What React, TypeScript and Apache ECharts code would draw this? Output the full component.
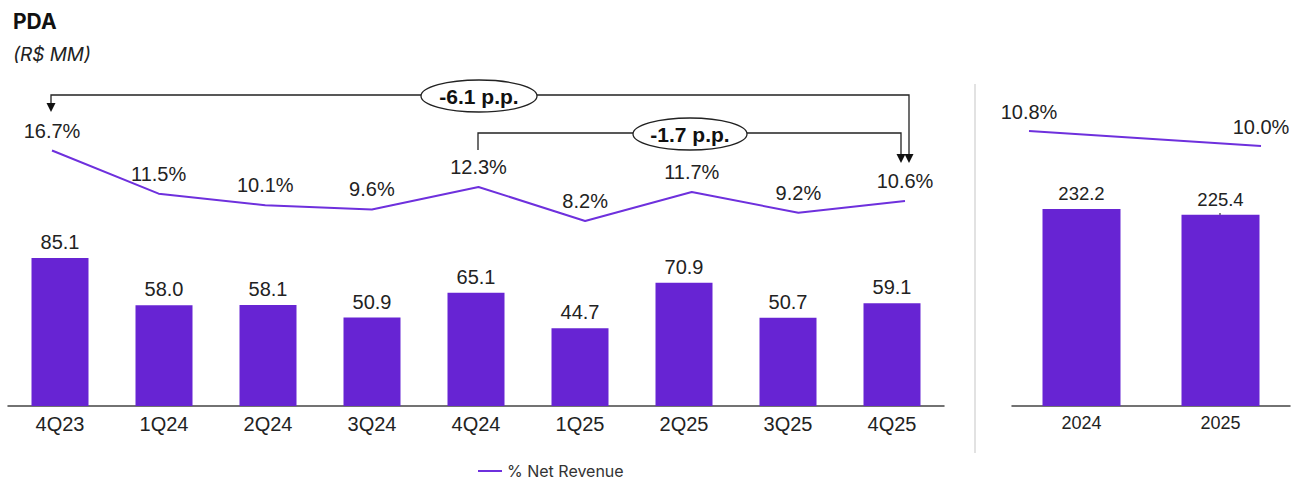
import React, { useEffect, useRef } from "react";
import * as echarts from "echarts";

const quarters = ["4Q23", "1Q24", "2Q24", "3Q24", "4Q24", "1Q25", "2Q25", "3Q25", "4Q25"];
const quarterPda = [85.1, 58.0, 58.1, 50.9, 65.1, 44.7, 70.9, 50.7, 59.1];
const quarterPct = [16.7, 11.5, 10.1, 9.6, 12.3, 8.2, 11.7, 9.2, 10.6];
const years = ["2024", "2025"];
const yearPda = [232.2, 225.4];
const yearPct = [10.8, 10.0];
const titleText = "PDA";
const subtitleText = "(R$ MM)";
const legendName = "% Net Revenue";
const deltaLong = "-6.1 p.p.";
const deltaShort = "-1.7 p.p.";

const BAR = "#6724D3";
const LINE = "#6E30DD";
const FONT = "'Liberation Sans', Arial, Helvetica, sans-serif";
const FONT2 = "Inter, 'Liberation Sans', Arial, sans-serif";

export default function App() {
  const ref = useRef<HTMLDivElement>(null);
  useEffect(() => {
    if (!ref.current) return;
    const chart = echarts.init(ref.current, null, { renderer: "svg" });
    const dark = "#222";
    const stroke = { stroke: "#222", lineWidth: 1.3 };
    const arrow = (x: number, tipY: number) => ({
      type: "polygon",
      shape: { points: [[x - 4.5, tipY - 9], [x + 4.5, tipY - 9], [x, tipY]] },
      style: { fill: "#111" },
    });
    chart.setOption({
      animation: false,
      textStyle: { fontFamily: FONT },
      title: [
        { text: titleText, left: 8, top: 6, textStyle: { fontSize: 21, fontWeight: "bold", color: "#111", fontFamily: FONT2 } },
        { text: subtitleText, left: 8, top: 40, textStyle: { fontSize: 19, fontStyle: "italic", fontWeight: "normal", color: "#222", fontFamily: FONT2 } },
      ],
      legend: {
        data: [{ name: legendName, itemStyle: { color: LINE } }],
        left: 478,
        top: 463,
        padding: 0,
        icon: "rect",
        itemWidth: 24,
        itemHeight: 2,
        itemGap: 8,
        textStyle: { fontSize: 16, color: "#333", fontFamily: FONT2 },
      },
      grid: [
        { left: 8, width: 936, top: 80, height: 326 },
        { left: 52, width: 853, top: 80, height: 326 },
        { left: 1012, width: 278, top: 80, height: 326 },
        { left: 1029, width: 232, top: 80, height: 326 },
      ],
      xAxis: [
        {
          gridIndex: 0, type: "category", data: quarters,
          axisLine: { lineStyle: { color: "#444", width: 1.5 } },
          axisTick: { show: false },
          axisLabel: { fontSize: 20, color: dark, margin: 8, fontFamily: FONT },
        },
        { gridIndex: 1, type: "category", data: quarters, boundaryGap: false, show: false },
        {
          gridIndex: 2, type: "category", data: years,
          axisLine: { lineStyle: { color: "#444", width: 1.5 } },
          axisTick: { show: false },
          axisLabel: { fontSize: 18, color: dark, margin: 8, fontFamily: FONT },
        },
        { gridIndex: 3, type: "category", data: years, boundaryGap: false, show: false },
      ],
      yAxis: [
        { gridIndex: 0, type: "value", min: 0, max: 187.5, show: false, splitLine: { show: false } },
        { gridIndex: 1, type: "value", min: -14.1, max: 25.2, show: false, splitLine: { show: false } },
        { gridIndex: 2, type: "value", min: 0, max: 384.4, show: false, splitLine: { show: false } },
        { gridIndex: 3, type: "value", min: -3.87, max: 13.52, show: false, splitLine: { show: false } },
      ],
      series: [
        {
          type: "bar", name: "PDA", xAxisIndex: 0, yAxisIndex: 0, data: quarterPda,
          barWidth: 57, itemStyle: { color: BAR },
          label: { show: true, position: "top", distance: 6, fontSize: 20, color: dark, fontFamily: FONT, formatter: (p: any) => p.value.toFixed(1) },
        },
        {
          type: "line", name: legendName, xAxisIndex: 1, yAxisIndex: 1, data: quarterPct,
          symbol: "circle", symbolSize: 0, showSymbol: true,
          lineStyle: { color: LINE, width: 2 }, itemStyle: { color: LINE },
          label: { show: true, position: "top", distance: 10, fontSize: 20, color: dark, fontFamily: FONT, formatter: (p: any) => p.value.toFixed(1) + "%" },
        },
        {
          type: "bar", name: "PDA Year", xAxisIndex: 2, yAxisIndex: 2, data: yearPda,
          barWidth: 78, itemStyle: { color: BAR },
          label: { show: true, position: "top", distance: 6, fontSize: 18.5, color: dark, fontFamily: FONT, formatter: (p: any) => p.value.toFixed(1) },
        },
        {
          type: "line", name: legendName, xAxisIndex: 3, yAxisIndex: 3, data: yearPct,
          symbol: "circle", symbolSize: 0, showSymbol: true,
          lineStyle: { color: LINE, width: 2 }, itemStyle: { color: LINE },
          label: { show: true, position: "top", distance: 9, fontSize: 20, color: dark, fontFamily: FONT, formatter: (p: any) => p.value.toFixed(1) + "%" },
        },
      ],
      graphic: [
        { type: "line", shape: { x1: 975, y1: 84, x2: 975, y2: 453 }, style: { stroke: "#d8d8d8", lineWidth: 1.5 } },
        // -6.1 p.p. bracket
        { type: "polyline", shape: { points: [[51, 104], [51, 95], [909, 95], [909, 155]] }, style: { ...stroke, fill: null } },
        arrow(51, 112),
        arrow(909, 163),
        { type: "ellipse", shape: { cx: 479, cy: 96, rx: 58, ry: 16 }, style: { fill: "#fff", stroke: "#222", lineWidth: 1.3 } },
        { type: "text", x: 479, y: 96, style: { text: deltaLong, fontSize: 21, fontWeight: "bold", fill: "#111", align: "center", verticalAlign: "middle", fontFamily: FONT } },
        // -1.7 p.p. bracket
        { type: "polyline", shape: { points: [[478, 150], [478, 133], [901, 133], [901, 155]] }, style: { ...stroke, fill: null } },
        arrow(901, 163),
        { type: "ellipse", shape: { cx: 690, cy: 134, rx: 57, ry: 16 }, style: { fill: "#fff", stroke: "#222", lineWidth: 1.3 } },
        { type: "text", x: 690, y: 134, style: { text: deltaShort, fontSize: 21, fontWeight: "bold", fill: "#111", align: "center", verticalAlign: "middle", fontFamily: FONT } },
        { type: "line", shape: { x1: 1220, y1: 213, x2: 1220, y2: 224 }, style: { stroke: "#333", lineWidth: 1.2 } },
      ],
    });
    return () => chart.dispose();
  }, []);
  return <div ref={ref} style={{ position: "absolute", left: 0, top: 0, width: 1292, height: 480 }} />;
}
